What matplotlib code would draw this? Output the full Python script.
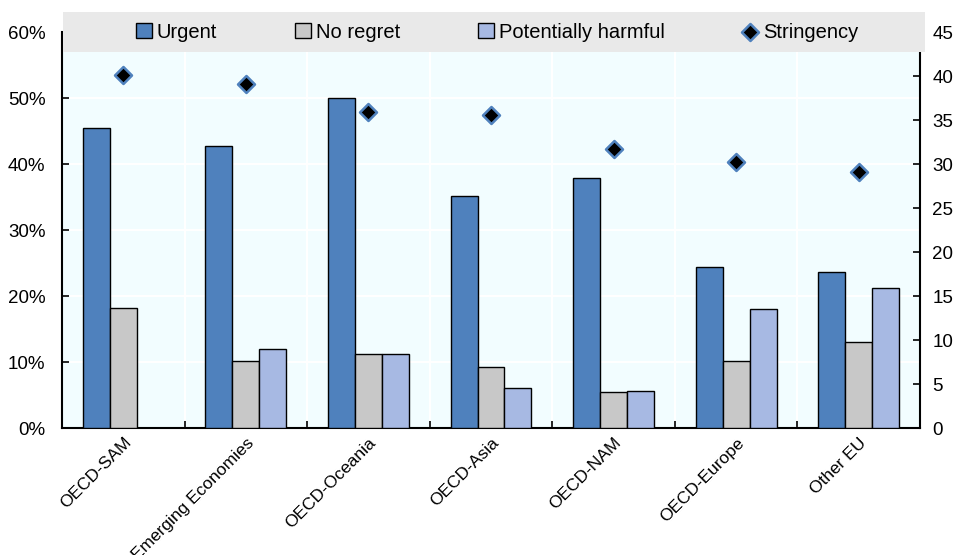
import numpy as np
import matplotlib.pyplot as plt
from matplotlib.patches import Rectangle
from matplotlib.ticker import FuncFormatter, MultipleLocator

plt.rcParams["font.family"] = ["Liberation Sans", "DejaVu Sans"]

regions = ["OECD-SAM", "Emerging Economies", "OECD-Oceania", "OECD-Asia",
           "OECD-NAM", "OECD-Europe", "Other EU"]
urgent = [45.5, 42.8, 50.0, 35.2, 37.9, 24.4, 23.6]
no_regret = [18.2, 10.2, 11.2, 9.2, 5.5, 10.2, 13.0]
harmful = [0.0, 12.0, 11.2, 6.1, 5.6, 18.0, 21.2]
stringency = [40.1, 39.1, 35.9, 35.6, 31.7, 30.2, 29.1]

C_URG = "#4f81bd"
C_NOR = "#c8c8c8"
C_HARM = "#a7b9e3"
BG = "#f2fdff"

fig = plt.figure(figsize=(9.56, 5.55), dpi=100)
ax = fig.add_axes([0.0649, 0.2288, 0.8974, 0.7135])
ax.set_facecolor(BG)

x = np.arange(len(regions))
w = 0.22
kw = dict(width=w, edgecolor="black", linewidth=1.0, zorder=3)
ax.bar(x - w, urgent, color=C_URG, label="Urgent", **kw)
ax.bar(x, no_regret, color=C_NOR, label="No regret", **kw)
ax.bar(x + w, harmful, color=C_HARM, label="Potentially harmful", **kw)

ax.set_xlim(-0.5, len(regions) - 0.5)
ax.set_ylim(0, 60)
ax.yaxis.set_major_locator(MultipleLocator(10))
ax.yaxis.set_major_formatter(FuncFormatter(lambda v, p: f"{v:.0f}%"))
ax.set_xticks(x)
ax.set_xticklabels(regions, rotation=45, ha="right", rotation_mode="anchor",
                   fontsize=12.5)
ax.tick_params(axis="x", length=0, pad=5)
ax.set_xticks(np.arange(-0.5, len(regions), 1)[1:-1], minor=True)
ax.tick_params(axis="x", which="minor", direction="in", length=5, width=1.2)
ax.tick_params(axis="y", direction="in", length=5, width=1.2, labelsize=13.5,
               pad=12)
ax.grid(True, which="major", axis="y", color="white", linewidth=1.5, zorder=0)
ax.grid(True, which="minor", axis="x", color="white", linewidth=1.5, zorder=0)
ax.set_axisbelow(True)
for s in ["top", "right"]:
    ax.spines[s].set_visible(False)
ax.spines["left"].set_linewidth(1.5)
ax.spines["bottom"].set_linewidth(1.5)

ax2 = ax.twinx()
ax2.set_ylim(0, 45)
ax2.yaxis.set_major_locator(MultipleLocator(5))
ax2.scatter(x, stringency, marker="D", s=75, color="black",
            edgecolor=C_URG, linewidth=1.8, zorder=5, label="Stringency")
ax2.tick_params(axis="y", direction="in", length=5, width=1.2, labelsize=13.5,
                pad=9)
for s in ["top", "left", "bottom"]:
    ax2.spines[s].set_visible(False)
ax2.spines["right"].set_linewidth(1.5)

fig.patches.append(Rectangle((0.0659, 0.9063), 0.9017, 0.072,
                             transform=fig.transFigure, facecolor="#e9e9e9",
                             edgecolor="none", zorder=1))

h1, l1 = ax.get_legend_handles_labels()
h2, l2 = ax2.get_legend_handles_labels()
fig.legend(h1 + h2, l1 + l2, loc="center", bbox_to_anchor=(0.52, 0.942),
           ncol=4, frameon=False, fontsize=14.5, handlelength=0.8,
           handleheight=0.8, handletextpad=0.25, columnspacing=3.85)

fig.savefig("out.png", dpi=100)
